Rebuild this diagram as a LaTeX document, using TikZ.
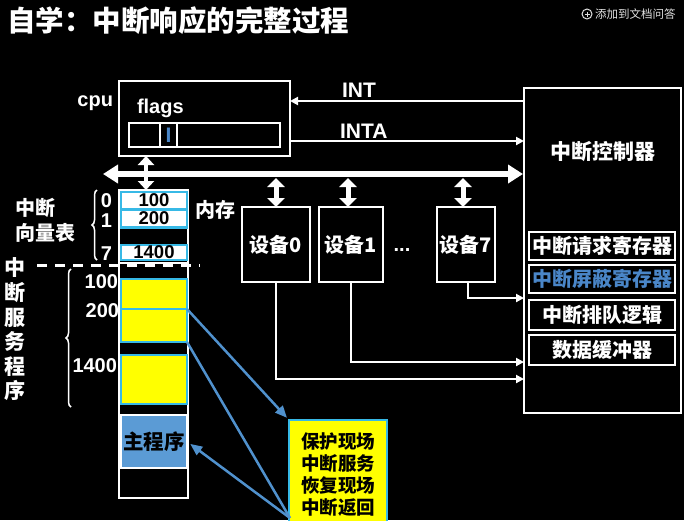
\documentclass[tikz,border=0pt]{standalone}
\usepackage{fontspec}
\setmainfont{Liberation Sans}
\newfontfamily\cjk{Noto Sans CJK SC}
\usetikzlibrary{arrows.meta,decorations.pathreplacing,calc}
\definecolor{cellcyan}{RGB}{55,185,230}
\definecolor{steel}{RGB}{80,145,205}
\definecolor{mainfill}{RGB}{91,155,213}
\definecolor{maskblue}{RGB}{74,134,200}
\definecolor{hiyellow}{RGB}{255,255,0}
\definecolor{uigray}{RGB}{225,225,225}

\begin{document}
\begin{tikzpicture}[x=1pt,y=-1pt,
  every node/.style={inner sep=0pt, outer sep=0pt},
  wbox/.style={draw=white, line width=2.6pt, rectangle},
  cell/.style={draw=cellcyan, line width=2.6pt, fill=white, minimum width=66pt,
    text=black, font=\bfseries\fontsize{18.5}{18.5}\selectfont},
  ycell/.style={draw=cellcyan, line width=2.6pt, fill=hiyellow, minimum width=66pt},
  wtxt/.style={text=white, font=\bfseries\fontsize{20}{20}\selectfont},
  ctxt/.style={text=white, font=\cjk\bfseries\fontsize{20}{20}\selectfont},
  thinarrow/.style={draw=white, line width=2pt, -{Triangle[length=8pt,width=8pt]}},
  dblarrow/.style={draw=white, line width=5pt,
    {Triangle[length=9pt,width=17pt]}-{Triangle[length=9pt,width=17pt]}},
  busarrow/.style={draw=white, line width=6pt,
    {Triangle[length=15pt,width=18pt]}-{Triangle[length=15pt,width=18pt]}},
  bluearrow/.style={draw=steel, line width=2.5pt, -{Triangle[length=12pt,width=10pt]}},
  sep/.style={draw=white, line width=2.6pt},
]
% canvas
\fill[black] (0,0) rectangle (684,520);
\useasboundingbox (0,0) rectangle (684,520);
\clip (0,0) rectangle (684,520);

% heading
\node[anchor=west, text=white, font=\cjk\bfseries\fontsize{28.5}{28.5}\selectfont]
  (title) at (7,21) {自学：中断响应的完整过程};
\node[circle, draw=uigray, line width=1pt, minimum size=10pt] (addicon) at (587,14) {};
\draw[uigray, line width=1pt]
  ($(addicon.center)+(-2.5,0)$) -- ($(addicon.center)+(2.5,0)$)
  ($(addicon.center)+(0,-2.5)$) -- ($(addicon.center)+(0,2.5)$);
\node[anchor=west, text=uigray, font=\cjk\fontsize{11.5}{11.5}\selectfont]
  (addtodoc) at (595,14) {添加到文档问答};

% CPU with flags register
\node[wbox, line width=2.8pt, minimum width=171pt, minimum height=75pt] (cpu) at (204.5,118.5) {};
\node[wtxt, anchor=base east] (cpulabel) at (113,106) {cpu};
\node[wtxt, anchor=base west] (flagslabel) at (137,113) {flags};
\node[draw=white, line width=2.2pt, minimum width=151pt, minimum height=24pt] (flagsreg) at (204.5,135) {};
\node[draw=white, line width=2.2pt, minimum width=17pt, minimum height=24pt] (ifbit) at (168.5,135) {};
\node[text=maskblue, font=\bfseries\fontsize{21}{21}\selectfont] (iflag) at (168.5,135) {I};

% interrupt controller
\node[wbox, minimum width=157pt, minimum height=325pt] (ctrl) at (602.5,250.5) {};
\node[ctxt, font=\cjk\bfseries\fontsize{21}{21}\selectfont] (ctrltitle) at (603,152) {中断控制器};
\node[wbox, line width=2.2pt, minimum width=146pt, minimum height=28pt, ctxt] (reqreg) at (602,246) {中断请求寄存器};
\node[wbox, line width=2.2pt, minimum width=146pt, minimum height=28pt, ctxt, text=maskblue] (maskreg) at (602,279) {中断屏蔽寄存器};
\node[wbox, line width=2.2pt, minimum width=146pt, minimum height=30pt, ctxt] (queue) at (602,315) {中断排队逻辑};
\node[wbox, line width=2.2pt, minimum width=146pt, minimum height=30pt, ctxt] (databuf) at (602,350) {数据缓冲器};

% INT / INTA signals
\draw[thinarrow] (ctrl.west |- 0,101) -- (cpu.east |- 0,101);
\node[wtxt, font=\bfseries\fontsize{21}{21}\selectfont, anchor=base west] (intlabel) at (342,97) {INT};
\draw[thinarrow] (cpu.east |- 0,141) -- (ctrl.west |- 0,141);
\node[wtxt, font=\bfseries\fontsize{21}{21}\selectfont, anchor=base west] (intalabel) at (340,138) {INTA};

% system bus
\coordinate (busL) at (103,174);
\coordinate (busR) at (523,174);
\draw[busarrow] (busL) -- (busR);

% memory column
\node[wbox, minimum width=69pt, minimum height=308pt] (mem) at (153.5,344) {};
\node[cell, minimum height=17pt] (vec0) at (154,200.5) {100};
\node[cell, minimum height=18pt] (vec1) at (154,218.5) {200};
\node[cell, minimum height=15pt] (vec7) at (154,252.5) {1400};
\draw[sep] (mem.west |- 0,263) -- (mem.east |- 0,263);
\node[ycell, minimum height=30pt] (blk100) at (154,294) {};
\node[ycell, minimum height=33pt] (blk200) at (154,325.5) {};
\node[ycell, minimum height=49pt] (blk1400) at (154,379.5) {};
\node[draw=white, line width=2.6pt, fill=mainfill, minimum width=66pt, minimum height=53pt,
  text=black, font=\cjk\bfseries\fontsize{20.5}{20.5}\selectfont] (main) at (154,441.5) {主程序};
\draw[white, line width=4.5pt, {Triangle[length=9pt,width=16pt]}-{Triangle[length=9pt,width=16pt]}]
  (cpu.south -| 146,0) -- (mem.north -| 146,0);

% vector table labels
\node[wtxt, anchor=base east] (idx0) at (112,207) {0};
\node[wtxt, anchor=base east] (idx1) at (112,227) {1};
\node[wtxt, anchor=base east] (idx7) at (112,260) {7};
\draw[white, line width=1.5pt, decorate, decoration={brace, amplitude=5pt}] (97,260) -- (97,190);
\node[ctxt, anchor=west] (vectitleA) at (15,208) {中断};
\node[ctxt, anchor=west] (vectitleB) at (15,233) {向量表};
\node[ctxt, anchor=west] (memlabel) at (195,210) {内存};

% boundary between vector table and service routines
\coordinate (dashL) at (37,265);
\coordinate (dashR) at (200,265);
\draw[white, line width=3pt, dash pattern=on 10pt off 8pt] (dashL) -- (dashR);

% service routine labels
\node[ctxt, align=center, font=\cjk\bfseries\fontsize{21}{24.6}\selectfont] (svclabel) at (15,329.5)
  {中\\断\\服\\务\\程\\序};
\draw[white, line width=1.5pt, decorate, decoration={brace, amplitude=5pt}] (71,407) -- (71,269);
\node[wtxt, anchor=base east] (addr100) at (118,288) {100};
\node[wtxt, anchor=base east] (addr200) at (119,317) {200};
\node[wtxt, anchor=base east] (addr1400) at (117,372) {1400};

% I/O devices
\node[wbox, minimum width=68pt, minimum height=75pt, ctxt] (dev0) at (276,244.5) {设备0};
\node[wbox, minimum width=64pt, minimum height=75pt, ctxt] (dev1) at (351,244.5) {设备1};
\node[wbox, minimum width=58pt, minimum height=75pt, ctxt] (dev7) at (466,244.5) {设备7};
\node[wtxt, anchor=base] (dots) at (402,251) {...};
\draw[dblarrow] (dev0.north) -- (dev0.north |- 0,178);
\draw[dblarrow] ($(dev1.north)+(-3,0)$) -- ($(dev1.north |- 0,178)+(-3,0)$);
\draw[dblarrow] ($(dev7.north)+(-3,0)$) -- ($(dev7.north |- 0,178)+(-3,0)$);

% interrupt request lines
\draw[thinarrow] (dev0.south) |- (ctrl.west |- 0,379);
\draw[thinarrow] (dev1.south) |- (ctrl.west |- 0,362);
\draw[thinarrow] ($(dev7.south)+(2,0)$) |- (ctrl.west |- 0,298);

% routine steps
\node[draw=cellcyan, line width=2.6pt, fill=hiyellow, minimum width=98pt, minimum height=112pt] (routine) at (338,476) {};
\node[text=black, font=\cjk\bfseries\fontsize{18.5}{22}\selectfont, align=center, anchor=north]
  (routinetext) at (338,433) {保护现场\\中断服务\\恢复现场\\中断返回};

% flow of control
\coordinate (rbase) at (290,518);
\draw[bluearrow, shorten >=3pt] (blk100.south east) -- (routine.north west);
\draw[steel, line width=2.5pt] (blk200.south east) -- (rbase);
\draw[bluearrow, shorten >=4pt] (rbase) -- (main.east);
\end{tikzpicture}
\end{document}
